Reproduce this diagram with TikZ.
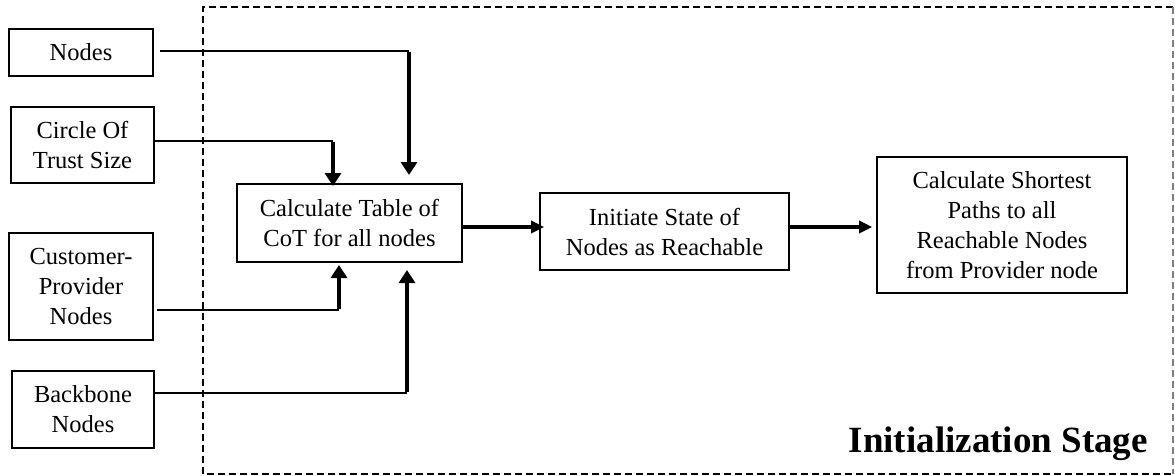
\documentclass[tikz,border=0pt]{standalone}
\usepackage{fontspec}
\setmainfont{Liberation Serif}
\usetikzlibrary{arrows.meta}

\tikzset{
  box/.style={draw, line width=1.6pt, align=center, inner sep=0pt,
    font=\fontsize{24.5}{30}\selectfont},
  feed/.style={line width=1.9pt},
  vin/.style={line width=3.4pt, -{Triangle[width=16pt,length=13pt]}},
  hflow/.style={line width=3.4pt, -{Triangle[width=12pt,length=13pt]}},
  stage/.style={line width=2.8pt, dash pattern=on 7pt off 4pt},
  stageedge/.style={line width=1.3pt, gray, dash pattern=on 7pt off 4pt},
}

\begin{document}
\begin{tikzpicture}[x=1pt, y=-1pt]
  \useasboundingbox (0,0) rectangle (1175,476);

  % stage frame
  \coordinate (fTL) at (203,7);
  \coordinate (fTR) at (1173,7);
  \coordinate (fBL) at (203,474);
  \coordinate (fBR) at (1173,474);
  \draw[stage] (fTR) -- (fTL) -- (fBL) -- (fBR);
  \draw[stageedge] (fTR) -- (fBR);
  \node[anchor=base east, inner sep=0pt, font=\fontsize{37}{40}\selectfont\bfseries]
    (stagelabel) at (1148,452) {Initialization Stage};

  % inputs
  \node[box, minimum width=144pt, minimum height=47pt] (nodes) at (81,52.5) {Nodes};
  \node[box, minimum width=143pt, minimum height=76pt] (cot) at (82.5,145) {Circle Of\\Trust Size};
  \node[box, minimum width=144pt, minimum height=107pt] (cp) at (81,286.5) {Customer-\\Provider\\Nodes};
  \node[box, minimum width=142pt, minimum height=77pt] (bb) at (83,409.5) {Backbone\\Nodes};

  % processing steps
  \node[box, minimum width=225pt, minimum height=78pt] (calc) at (349.5,223) {Calculate Table of\\CoT for all nodes};
  \node[box, minimum width=249pt, minimum height=77pt] (init) at (664.5,231.5) {Initiate State of\\Nodes as Reachable};
  \node[box, minimum width=250pt, minimum height=136pt] (short) at (1002,225) {Calculate Shortest\\Paths to all\\Reachable Nodes\\from Provider node};

  % input feeds
  \coordinate (nA) at (160,51);
  \coordinate (nB) at (409,51);
  \coordinate (nC) at (409,175);
  \draw[feed] (nA) -- (nB);
  \draw[vin] ([yshift=-0.9pt]nB) -- (nC);

  \coordinate (cA) at (333,141);
  \coordinate (cB) at (333,186);
  \draw[feed] (cot.east |- cA) -- (cA);
  \draw[vin] ([yshift=-0.9pt]cA) -- (cB);

  \coordinate (pA) at (157,310);
  \coordinate (pB) at (339,310);
  \coordinate (pC) at (339,265);
  \draw[feed] (pA) -- (pB);
  \draw[vin] ([yshift=0.9pt]pB) -- (pC);

  \coordinate (bA) at (407,393);
  \coordinate (bB) at (407,270);
  \draw[feed] (bb.east |- bA) -- (bA);
  \draw[vin] ([yshift=0.9pt]bA) -- (bB);

  % main flow
  \draw[hflow] (calc.east |- 0,227) -- ([xshift=5pt]init.west |- 0,227);
  \draw[hflow] (init.east |- 0,227) -- ([xshift=-4pt]short.west |- 0,227);
\end{tikzpicture}
\end{document}
